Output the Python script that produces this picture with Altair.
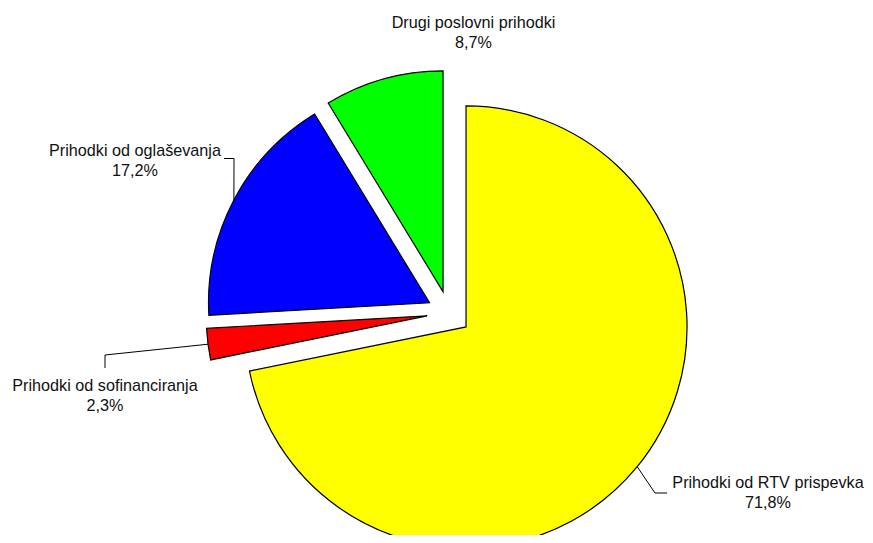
import math
import altair as alt
import pandas as pd

# ---- data ----
categories = [
    "Prihodki od RTV prispevka",
    "Prihodki od sofinanciranja",
    "Prihodki od oglaševanja",
    "Drugi poslovni prihodki",
]
values = [71.8, 2.3, 17.2, 8.7]
colors = ["#FFFF00", "#FF0000", "#0000FF", "#00FF00"]

# ---- layout (pixels, relative to the pie centre) ----
W, H = 857, 527
CX, CY = 441, 305
R = 221
EXPLODE = 22
label_anchor = [(319, 175), (-344, 78), (-314, -157), (24.5, -285)]
leader_bends = [
    [(206, 180), (218, 180)],
    [(-344, 42), (-344, 55)],
    [(-215, -154.5), (-225, -154.5)],
    [],
]

total = sum(values)
slices, labels, leaders = [], [], []
cum = 0.0
for i, (cat, v, col) in enumerate(zip(categories, values, colors)):
    start, end = cum, cum + v
    cum = end
    mid = (start + end) / 2 / total * 2 * math.pi
    ex, ey = EXPLODE * math.sin(mid), -EXPLODE * math.cos(mid)
    slices.append(dict(cat=cat, start=start, end=end, ex=ex, ey=ey, color=col))
    pct = f"{v:.1f}".replace(".", ",") + "%"
    labels.append(dict(cat=cat, lx=label_anchor[i][0], ly=label_anchor[i][1], name=cat, pct=pct))
    if leader_bends[i]:
        px = (EXPLODE + R) * math.sin(mid)
        py = -(EXPLODE + R) * math.cos(mid)
        pts = [(px, py)] + leader_bends[i]
        for k, (x, y) in enumerate(pts):
            leaders.append(dict(cat=cat, k=k, x=x, y=y))

slices = pd.DataFrame(slices)
labels = pd.DataFrame(labels)
leaders = pd.DataFrame(leaders)

xs = alt.Scale(domain=[-CX, W - CX], range=[0, W])
ys = alt.Scale(domain=[-CY, H - CY], range=[0, H])

arcs = alt.Chart(slices).mark_arc(outerRadius=R, stroke="black", strokeWidth=1.2).encode(
    x=alt.X("ex:Q", scale=xs, axis=None),
    y=alt.Y("ey:Q", scale=ys, axis=None),
    theta=alt.Theta("start:Q", scale=alt.Scale(domain=[0, total], range=[0, 2 * math.pi]), stack=False),
    theta2="end:Q",
    color=alt.Color("color:N", scale=None),
)

lines = alt.Chart(leaders).mark_line(color="black", strokeWidth=1).encode(
    x=alt.X("x:Q", scale=xs, axis=None),
    y=alt.Y("y:Q", scale=ys, axis=None),
    detail="cat:N",
    order="k:Q",
)

txt_style = dict(font="Liberation Sans", fontSize=16.2, align="center", baseline="alphabetic", color="#111111")
names = alt.Chart(labels).mark_text(**txt_style).encode(
    x=alt.X("lx:Q", scale=xs, axis=None),
    y=alt.Y("ly:Q", scale=ys, axis=None),
    text="name:N",
)
pcts = alt.Chart(labels).mark_text(dy=19.5, **txt_style).encode(
    x=alt.X("lx:Q", scale=xs, axis=None),
    y=alt.Y("ly:Q", scale=ys, axis=None),
    text="pct:N",
)

chart = (
    alt.layer(arcs, lines, names, pcts)
    .properties(width=W, height=H, autosize="none", padding=0, background="white")
    .configure_view(stroke=None)
)

chart.save("out.html", embed_options={"renderer": "svg", "actions": False})
